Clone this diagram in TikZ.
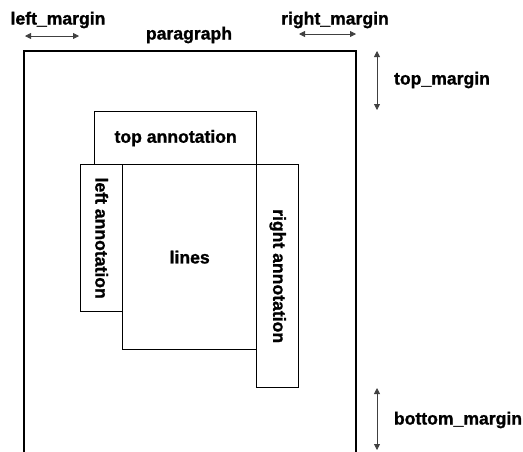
\documentclass[tikz,border=0pt]{standalone}
\usepackage{fontspec}
\setmainfont{Liberation Sans}[BoldFeatures={FakeBold=1.2}]
\usetikzlibrary{arrows.meta}
\begin{document}
\begin{tikzpicture}[x=0.75pt,y=-0.75pt,
  every node/.style={font=\fontsize{13.2}{15}\selectfont\bfseries},
  box/.style={draw=black,line width=1.0pt,fill=white,inner sep=0pt,anchor=north west},
  lbl/.style={inner sep=0pt},
  dim/.style={draw=black!75,line width=0.6pt,{Triangle[length=4.5pt,width=4.5pt]}-{Triangle[length=4.5pt,width=4.5pt]}}]
\useasboundingbox (0,0) rectangle (523,451);
% paragraph outline (open at bottom)
\draw[line width=1.0pt] (24,452) -- (24,51) -- (356,51) -- (356,452);
% boxes
\node[box,minimum width=134*0.75pt,minimum height=185*0.75pt] (lines) at (122,164) {};
\node[box,minimum width=42*0.75pt,minimum height=147*0.75pt] (left) at (80,164) {};
\node[box,minimum width=42*0.75pt,minimum height=223*0.75pt] (right) at (256,164) {};
\node[box,minimum width=162*0.75pt,minimum height=53*0.75pt] (top) at (94,111) {};
\node[lbl] at (lines.center) {lines};
\node[lbl] at (top.center) {top annotation};
\node[lbl,rotate=-90] at (left.center) {left annotation};
\node[lbl,rotate=-90] at (right.center) {right annotation};
% labels
\node[lbl] (lm) at (58,20) {left\_margin};
\node[lbl] (rm) at (335,20) {right\_margin};
\node[lbl] (par) at (189,35) {paragraph};
\node[lbl] (tm) at (442,80) {top\_margin};
\node[lbl] (bm) at (458,420) {bottom\_margin};
% dimension arrows
\coordinate (lm1) at (25,36); \coordinate (lm2) at (79,36);
\coordinate (rm1) at (299,34); \coordinate (rm2) at (356,34);
\coordinate (tm1) at (377,51); \coordinate (tm2) at (377,110);
\coordinate (bm1) at (377,388); \coordinate (bm2) at (377,450);
\draw[dim] (lm1) -- (lm2);
\draw[dim] (rm1) -- (rm2);
\draw[dim] (tm1) -- (tm2);
\draw[dim] (bm1) -- (bm2);
\end{tikzpicture}
\end{document}
